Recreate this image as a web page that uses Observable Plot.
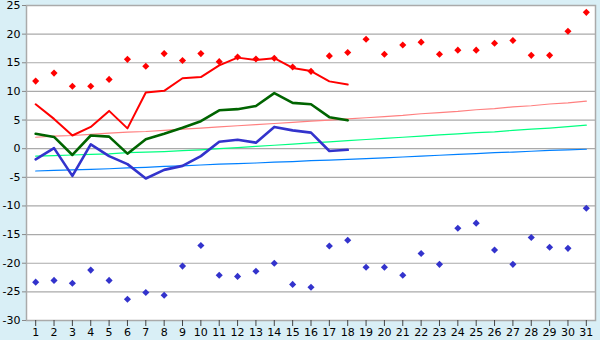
<!DOCTYPE html>
<html><head><meta charset="utf-8">
<script src="https://cdn.jsdelivr.net/npm/d3@7"></script>
<script src="https://cdn.jsdelivr.net/npm/@observablehq/plot@0.6"></script>
<style>body{margin:0;background:#d9eff6}</style>
</head><body><div id="chart"></div>
<script>
const days = [1,2,3,4,5,6,7,8,9,10,11,12,13,14,15,16,17,18,19,20,21,22,23,24,25,26,27,28,29,30,31];
const yTicks = [-30,-25,-20,-15,-10,-5,0,5,10,15,20,25];
// observed (days 1-18)
const maxTemp  = [7.75,5.2,2.3,3.8,6.6,3.55,9.8,10.1,12.3,12.5,14.55,15.9,15.5,15.8,14.1,13.55,11.75,11.2];
const meanTemp = [2.6,2.05,-1.1,2.3,2.1,-0.87,1.65,2.6,3.65,4.8,6.7,6.9,7.45,9.7,8.0,7.75,5.5,4.95];
const minTemp  = [-1.85,0.1,-4.75,0.75,-1.3,-2.7,-5.2,-3.7,-3.0,-1.3,1.2,1.55,1.05,3.8,3.2,2.8,-0.4,-0.2];
// records
const recordMax = [11.8,13.2,10.9,10.9,12.1,15.6,14.4,16.6,15.4,16.6,15.2,16.0,15.65,15.8,14.25,13.5,16.2,16.8,19.1,16.5,18.1,18.6,16.5,17.2,17.2,18.4,18.9,16.3,16.3,20.5,23.8];
const recordMin = [-23.3,-23.0,-23.5,-21.2,-23.0,-26.3,-25.1,-25.6,-20.5,-16.9,-22.1,-22.3,-21.4,-20.0,-23.7,-24.2,-17.0,-16.0,-20.7,-20.7,-22.1,-18.3,-20.2,-13.9,-13.0,-17.7,-20.2,-15.5,-17.2,-17.4,-10.4];
// normals
const normalMax  = [2.0,2.2,2.3,2.5,2.7,2.9,3.0,3.2,3.4,3.6,3.8,4.0,4.2,4.4,4.6,4.8,5.0,5.2,5.4,5.6,5.8,6.1,6.3,6.5,6.8,7.0,7.3,7.5,7.8,8.0,8.3];
const normalMean = [-1.3,-1.2,-1.1,-1.0,-0.9,-0.7,-0.6,-0.5,-0.35,-0.2,0.0,0.2,0.4,0.6,0.8,1.0,1.2,1.4,1.6,1.8,2.0,2.2,2.4,2.6,2.8,2.95,3.2,3.4,3.6,3.85,4.1];
const normalMin  = [-3.9,-3.8,-3.7,-3.6,-3.5,-3.35,-3.25,-3.1,-3.0,-2.85,-2.7,-2.6,-2.5,-2.35,-2.25,-2.1,-2.0,-1.85,-1.75,-1.6,-1.45,-1.3,-1.15,-1.0,-0.85,-0.7,-0.6,-0.45,-0.3,-0.2,-0.1];

const obs = days.slice(0, maxTemp.length);
const chart = Plot.plot({
  width: 600, height: 340,
  marginLeft: 26, marginRight: 5, marginTop: 5, marginBottom: 20,
  style: {fontFamily: "DejaVu Sans", fontSize: "11px", background: "#d9eff6", color: "#000"},
  x: {domain: [0.5, 31.5]},
  y: {domain: [-30, 25]},
  marks: [
    Plot.frame({fill: "white", stroke: "#aaa", strokeWidth: 1.5}),
    Plot.ruleY(yTicks, {stroke: "#aaa", strokeWidth: 1.2}),
    Plot.line(days, {x: d => d, y: (d, i) => normalMax[i], stroke: "#ff8080", strokeWidth: 1.2}),
    Plot.line(days, {x: d => d, y: (d, i) => normalMean[i], stroke: "#00ff80", strokeWidth: 1.2}),
    Plot.line(days, {x: d => d, y: (d, i) => normalMin[i], stroke: "#0080ff", strokeWidth: 1.2}),
    Plot.line(obs, {x: d => d, y: (d, i) => maxTemp[i], stroke: "#ff0000", strokeWidth: 2}),
    Plot.line(obs, {x: d => d, y: (d, i) => meanTemp[i], stroke: "#006400", strokeWidth: 2.6}),
    Plot.line(obs, {x: d => d, y: (d, i) => minTemp[i], stroke: "#3333cc", strokeWidth: 2.6}),
    Plot.dot(days, {x: d => d, y: (d, i) => recordMax[i], symbol: "diamond2", r: 3.2, fill: "#ff0000"}),
    Plot.dot(days, {x: d => d, y: (d, i) => recordMin[i], symbol: "diamond2", r: 3.2, fill: "#3333cc"}),
    Plot.axisY({ticks: yTicks, tickSize: 4, tickPadding: 2, tickFormat: d => String(d), label: null, stroke: "#888"}),
    Plot.axisX({ticks: days, tickSize: 6, tickPadding: 2, tickFormat: d => String(d), label: null, stroke: "#444"})
  ]
});
document.getElementById("chart").appendChild(chart);
</script>
</body></html>
